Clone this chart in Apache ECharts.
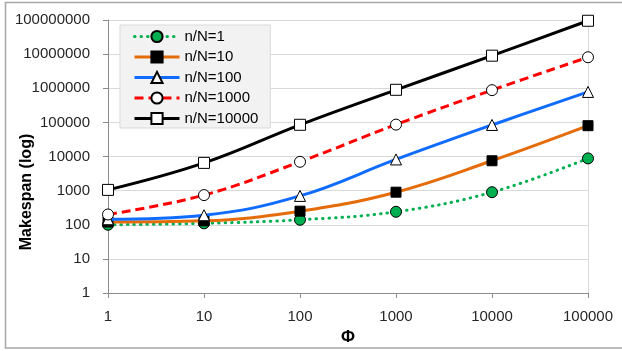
<!DOCTYPE html>
<html>
<head>
<meta charset="utf-8">
<script src="https://cdn.jsdelivr.net/npm/echarts@6/dist/echarts.min.js"></script>
<style>
html,body{margin:0;padding:0;background:#fff;}
#chart{width:622px;height:351px;}
</style>
</head>
<body>
<div id="chart"></div>
<script>
// ---- data ----
const phi = [1, 10, 100, 1000, 10000, 100000];
const seriesNames = ["n/N=1", "n/N=10", "n/N=100", "n/N=1000", "n/N=10000"];
const s1 = [100, 110, 140, 240, 900, 8800];
const s10 = [120, 130, 250, 900, 7500, 80000];
const s100 = [145, 190, 700, 8200, 84000, 780000];
const s1000 = [200, 740, 7000, 86000, 880000, 8100000];
const s10000 = [1050, 6500, 85000, 900000, 9000000, 95000000];
const yTitle = "Makespan (log)";
const xTitle = "Φ";

const values = [s1, s10, s100, s1000, s10000];
const styles = [
  {line: '#00b050', type: [0.5, 6], cap: 'round', symbol: 'circle', fill: '#00b050', size: 11},
  {line: '#e46c0a', type: 'solid', cap: 'butt', symbol: 'rect', fill: '#000000', size: 10},
  {line: '#0f6cff', type: 'solid', cap: 'butt', symbol: 'triangle', fill: '#ffffff', size: 11},
  {line: '#ff0000', type: [9, 5], cap: 'butt', symbol: 'circle', fill: '#ffffff', size: 11},
  {line: '#000000', type: 'solid', cap: 'butt', symbol: 'rect', fill: '#ffffff', size: 11}
];

const chart = echarts.init(document.getElementById('chart'), null, {renderer: 'canvas'});
const plain = v => String(Math.round(v));
const FONT = 'Liberation Sans';

const series = values.map((vals, i) => ({
  name: seriesNames[i],
  type: 'line',
  data: phi.map((x, j) => [x, vals[j]]),
  smooth: 0.4,
  symbol: styles[i].symbol,
  symbolSize: styles[i].size,
  lineStyle: {color: styles[i].line, width: 3, type: styles[i].type, cap: styles[i].cap},
  itemStyle: {color: styles[i].fill, borderColor: '#000', borderWidth: 1, opacity: 1},
  z: 2 + i
}));

chart.setOption({
  animation: false,
  backgroundColor: '#ffffff',
  grid: {left: 108, right: 34, top: 20, bottom: 54, containLabel: false},
  xAxis: {
    type: 'log', logBase: 10, min: 1, max: 100000,
    name: xTitle, nameLocation: 'middle', nameGap: 36,
    nameTextStyle: {fontFamily: FONT, fontWeight: 'bold', fontSize: 17, color: '#000'},
    axisLine: {lineStyle: {color: '#8c8c8c', width: 1}},
    axisTick: {show: true, length: 5, lineStyle: {color: '#8c8c8c'}},
    axisLabel: {formatter: plain, fontFamily: FONT, fontSize: 15, color: '#262626', margin: 16},
    splitLine: {show: false},
    minorTick: {show: false}
  },
  yAxis: [{
    type: 'log', logBase: 10, min: 1, max: 100000000,
    axisLine: {show: true, lineStyle: {color: '#8c8c8c', width: 1}},
    axisTick: {show: true, length: 5, lineStyle: {color: '#8c8c8c'}},
    axisLabel: {formatter: plain, fontFamily: FONT, fontSize: 15, color: '#262626', margin: 18},
    splitLine: {show: true, lineStyle: {color: '#d9d9d9', width: 1}}
  }, {
    type: 'log', logBase: 10, min: 1, max: 100000000, position: 'right',
    axisLine: {show: true, lineStyle: {color: '#d9d9d9', width: 1}},
    axisTick: {show: false}, axisLabel: {show: false}, splitLine: {show: false}
  }],
  legend: {
    orient: 'vertical', left: 120, top: 25,
    backgroundColor: '#f2f2f2', borderColor: '#d9d9d9', borderWidth: 1,
    padding: [4, 12, 2, 13],
    itemWidth: 45, itemHeight: 14, itemGap: 5.5,
    lineStyle: {width: 3},
    textStyle: {fontFamily: FONT, fontSize: 15, color: '#000'},
    data: seriesNames
  },
  graphic: [{
    type: 'rect', silent: true, z: 100,
    shape: {x: 5.5, y: 2.5, width: 640, height: 345.5},
    style: {fill: 'none', stroke: '#a6a6a6', lineWidth: 1.5}
  }, {
    type: 'text', silent: true,
    x: 27, y: 192, rotation: Math.PI / 2,
    style: {text: yTitle, fontFamily: FONT, fontWeight: 'bold', fontSize: 16, fill: '#000',
            textAlign: 'center', textVerticalAlign: 'middle'}
  }],
  series: series
});
</script>
</body>
</html>
